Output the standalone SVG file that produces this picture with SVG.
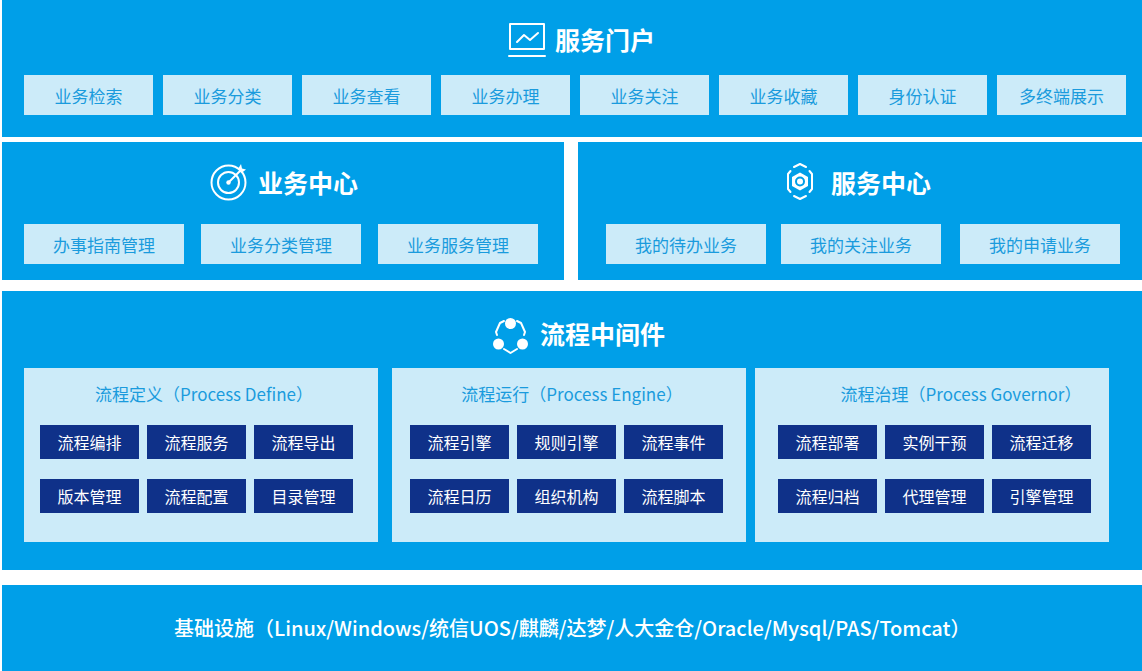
<svg xmlns="http://www.w3.org/2000/svg" width="1142" height="671" viewBox="0 0 1142 671">
<style>
text{font-family:"Noto Sans CJK SC","Noto Sans",sans-serif;dominant-baseline:central}
.panel{fill:#009FE8}
.pill{fill:#CCEBF9}
.pt{fill:#1A9BDD;font-size:17px;text-anchor:middle}
.btn{fill:#0F3189}
.bt{fill:#FFFFFF;font-size:16px;text-anchor:middle}
.sub{fill:#CCEBF9}
.st{fill:#1A9BDD;font-size:17px;text-anchor:middle}
.h{fill:#FFFFFF;font-size:25px;font-weight:700}
.ic{fill:none;stroke:#FFFFFF;stroke-width:2;stroke-linecap:round;stroke-linejoin:round}
</style>
<rect width="1142" height="671" fill="#FFFFFF"/>

<g id="portal">
<rect class="panel" x="2" y="0" width="1140" height="137"/>
<g class="ic">
<rect x="510" y="24" width="34" height="25"/>
<polyline points="517,42 524,35 530,40 538,33"/>
<line x1="509" y1="56" x2="545" y2="56"/>
</g>
<text class="h" x="555" y="39">服务门户</text>
<g id="p1"><rect class="pill" x="24" y="75" width="129" height="40"/><text class="pt" x="88.5" y="95">业务检索</text></g>
<g id="p2"><rect class="pill" x="163" y="75" width="129" height="40"/><text class="pt" x="227.5" y="95">业务分类</text></g>
<g id="p3"><rect class="pill" x="302" y="75" width="129" height="40"/><text class="pt" x="366.5" y="95">业务查看</text></g>
<g id="p4"><rect class="pill" x="441" y="75" width="129" height="40"/><text class="pt" x="505.5" y="95">业务办理</text></g>
<g id="p5"><rect class="pill" x="580" y="75" width="129" height="40"/><text class="pt" x="644.5" y="95">业务关注</text></g>
<g id="p6"><rect class="pill" x="719" y="75" width="129" height="40"/><text class="pt" x="783.5" y="95">业务收藏</text></g>
<g id="p7"><rect class="pill" x="858" y="75" width="129" height="40"/><text class="pt" x="922.5" y="95">身份认证</text></g>
<g id="p8"><rect class="pill" x="997" y="75" width="129" height="40"/><text class="pt" x="1061.5" y="95">多终端展示</text></g>
</g>

<g id="bizcenter">
<rect class="panel" x="2" y="142" width="562" height="138"/>
<g class="ic">
<circle cx="228.5" cy="182.5" r="17"/>
<circle cx="228.5" cy="182.5" r="10.5"/>
<line x1="228.5" y1="182.5" x2="240" y2="171"/>
</g>
<circle cx="228.5" cy="182.5" r="2.2" fill="#FFFFFF"/>
<polygon points="238,169 241,164 242,168.5 246,169.5 241.5,173" fill="#FFFFFF"/>
<text class="h" x="258" y="182">业务中心</text>
<g id="b1"><rect class="pill" x="24" y="224" width="160" height="40"/><text class="pt" x="104" y="244">办事指南管理</text></g>
<g id="b2"><rect class="pill" x="201" y="224" width="160" height="40"/><text class="pt" x="281" y="244">业务分类管理</text></g>
<g id="b3"><rect class="pill" x="378" y="224" width="160" height="40"/><text class="pt" x="458" y="244">业务服务管理</text></g>
</g>

<g id="svccenter">
<rect class="panel" x="578" y="142" width="564" height="138"/>
<g class="ic" stroke-width="1.8">
<polyline points="794,167 800,164 806,167"/>
<polyline points="809.5,171 812,174 812,189 809.5,192"/>
<polyline points="806,196 800,199 794,196"/>
<polyline points="790.5,192 788,189 788,174 790.5,171"/>
</g>
<path d="M800,172.5 L808,177 L808,186 L800,190.5 L792,186 L792,177 Z M800,176.5 A5,5 0 1,0 800,186.5 A5,5 0 1,0 800,176.5 Z" fill="#FFFFFF" fill-rule="evenodd"/>
<circle cx="800" cy="181.5" r="3" fill="#FFFFFF"/>
<text class="h" x="831" y="182">服务中心</text>
<g id="s1"><rect class="pill" x="606" y="224" width="160" height="40"/><text class="pt" x="686" y="244">我的待办业务</text></g>
<g id="s2"><rect class="pill" x="781" y="224" width="160" height="40"/><text class="pt" x="861" y="244">我的关注业务</text></g>
<g id="s3"><rect class="pill" x="960" y="224" width="160" height="40"/><text class="pt" x="1040" y="244">我的申请业务</text></g>
</g>

<g id="middleware">
<rect class="panel" x="2" y="291" width="1140" height="279"/>
<g class="ic">
<polyline points="504,321 500,323 496,332 497,335"/>
<polyline points="517,321 521,323 525,332 524,335"/>
<polyline points="504,349 510.5,353 517,349"/>
</g>
<circle cx="510.5" cy="323.5" r="5.5" fill="#FFFFFF"/>
<circle cx="498.5" cy="344" r="5.5" fill="#FFFFFF"/>
<circle cx="522.5" cy="344" r="5.5" fill="#FFFFFF"/>
<text class="h" x="540" y="333">流程中间件</text>

<g id="define">
<rect class="sub" x="24" y="368" width="354" height="174"/>
<text class="st" x="204" y="393">流程定义（Process Define）</text>
<g id="d1"><rect class="btn" x="40" y="425" width="99" height="34"/><text class="bt" x="89.5" y="442">流程编排</text></g>
<g id="d2"><rect class="btn" x="147" y="425" width="99" height="34"/><text class="bt" x="196.5" y="442">流程服务</text></g>
<g id="d3"><rect class="btn" x="254" y="425" width="99" height="34"/><text class="bt" x="303.5" y="442">流程导出</text></g>
<g id="d4"><rect class="btn" x="40" y="479" width="99" height="34"/><text class="bt" x="89.5" y="496">版本管理</text></g>
<g id="d5"><rect class="btn" x="147" y="479" width="99" height="34"/><text class="bt" x="196.5" y="496">流程配置</text></g>
<g id="d6"><rect class="btn" x="254" y="479" width="99" height="34"/><text class="bt" x="303.5" y="496">目录管理</text></g>
</g>

<g id="engine">
<rect class="sub" x="392" y="368" width="354" height="174"/>
<text class="st" x="572" y="393">流程运行（Process Engine）</text>
<g id="e1"><rect class="btn" x="410" y="425" width="99" height="34"/><text class="bt" x="459.5" y="442">流程引擎</text></g>
<g id="e2"><rect class="btn" x="517" y="425" width="99" height="34"/><text class="bt" x="566.5" y="442">规则引擎</text></g>
<g id="e3"><rect class="btn" x="624" y="425" width="99" height="34"/><text class="bt" x="673.5" y="442">流程事件</text></g>
<g id="e4"><rect class="btn" x="410" y="479" width="99" height="34"/><text class="bt" x="459.5" y="496">流程日历</text></g>
<g id="e5"><rect class="btn" x="517" y="479" width="99" height="34"/><text class="bt" x="566.5" y="496">组织机构</text></g>
<g id="e6"><rect class="btn" x="624" y="479" width="99" height="34"/><text class="bt" x="673.5" y="496">流程脚本</text></g>
</g>

<g id="governor">
<rect class="sub" x="755" y="368" width="354" height="174"/>
<text class="st" x="961" y="393">流程治理（Process Governor）</text>
<g id="g1"><rect class="btn" x="778" y="425" width="99" height="34"/><text class="bt" x="827.5" y="442">流程部署</text></g>
<g id="g2"><rect class="btn" x="885" y="425" width="99" height="34"/><text class="bt" x="934.5" y="442">实例干预</text></g>
<g id="g3"><rect class="btn" x="992" y="425" width="99" height="34"/><text class="bt" x="1041.5" y="442">流程迁移</text></g>
<g id="g4"><rect class="btn" x="778" y="479" width="99" height="34"/><text class="bt" x="827.5" y="496">流程归档</text></g>
<g id="g5"><rect class="btn" x="885" y="479" width="99" height="34"/><text class="bt" x="934.5" y="496">代理管理</text></g>
<g id="g6"><rect class="btn" x="992" y="479" width="99" height="34"/><text class="bt" x="1041.5" y="496">引擎管理</text></g>
</g>
</g>

<g id="infra">
<rect class="panel" x="2" y="585" width="1140" height="86"/>
<text x="174" y="627" fill="#FFFFFF" font-size="20" font-weight="500">基础设施（Linux/Windows/统信UOS/麒麟/达梦/人大金仓/Oracle/Mysql/PAS/Tomcat）</text>
</g>

<g id="connectors"></g>
</svg>
